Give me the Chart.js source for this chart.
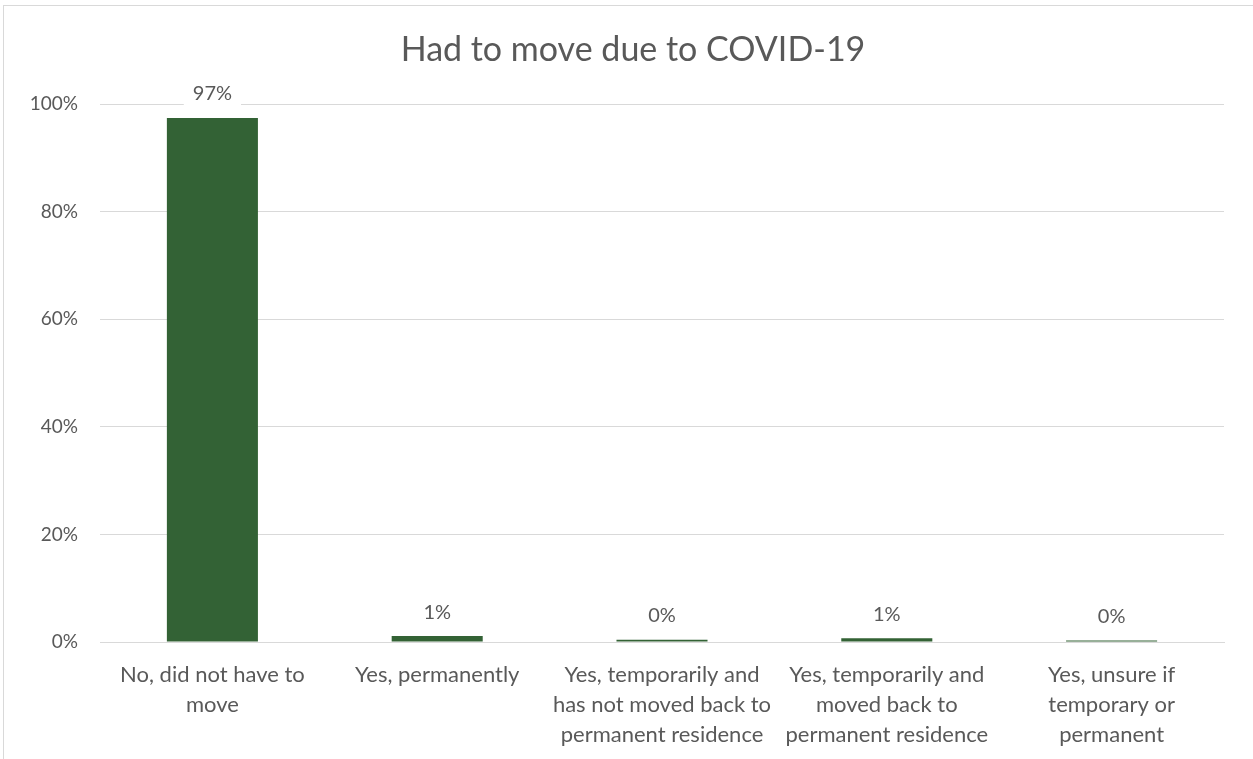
<!DOCTYPE html>
<html>
<head>
<meta charset="utf-8">
<script src="https://cdn.jsdelivr.net/npm/chart.js@4.4.1/dist/chart.umd.min.js"></script>
<style>
  html, body { margin: 0; padding: 0; overflow: hidden; background: #fff; }
  #frame { position: absolute; left: 3px; top: 5px; width: 1300px; height: 800px; border: 1px solid #d9d9d9; box-sizing: border-box; }
  #wrap { position: absolute; left: 0; top: 0; width: 1253px; height: 759px; }
</style>
</head>
<body>
<div id="frame"></div>
<div id="wrap"><canvas id="chartMove"></canvas></div>
<script>
'use strict';

// ── 데이터 ──────────────────────────────────────────────
var chartTitle = 'Had to move due to COVID-19';
var categories = [
  ['No, did not have to', 'move'],
  ['Yes, permanently'],
  ['Yes, temporarily and', 'has not moved back to', 'permanent residence'],
  ['Yes, temporarily and', 'moved back to', 'permanent residence'],
  ['Yes, unsure if', 'temporary or', 'permanent']
];
var shares = [97.4, 1.1, 0.4, 0.7, 0.3];
var yTicks = [0, 20, 40, 60, 80, 100];

var FONT = "Lato, 'Open Sans', 'Liberation Sans', sans-serif";
var TEXT = '#595959';
var GRID = '#d9d9d9';
var BAR = '#336235';

// 제목 (차트 틀 기준 가운데)
var titleText = {
  id: 'titleText',
  afterDraw: function (chart) {
    var ctx = chart.ctx;
    ctx.save();
    ctx.font = '34px ' + FONT;
    ctx.fillStyle = TEXT;
    ctx.textAlign = 'center';
    ctx.textBaseline = 'middle';
    ctx.fillText(chartTitle, 633, 50);
    ctx.restore();
  }
};

// 막대 위 라벨 (흰 배경)
var barLabels = {
  id: 'barLabels',
  afterDatasetsDraw: function (chart) {
    var ctx = chart.ctx;
    var meta = chart.getDatasetMeta(0);
    ctx.save();
    ctx.font = '20px ' + FONT;
    ctx.textAlign = 'center';
    ctx.textBaseline = 'middle';
    meta.data.forEach(function (bar, i) {
      var txt = Math.round(shares[i]) + '%';
      var y = bar.y - 24;
      var w = ctx.measureText(txt).width + 18;
      ctx.fillStyle = '#fff';
      ctx.fillRect(bar.x - w / 2, y - 12, w, 24);
      ctx.fillStyle = TEXT;
      ctx.fillText(txt, bar.x, y);
    });
    ctx.restore();
  }
};

new Chart(document.getElementById('chartMove').getContext('2d'), {
  type: 'bar',
  data: {
    labels: categories,
    datasets: [{
      data: shares,
      backgroundColor: BAR,
      borderWidth: 0,
      barPercentage: 0.81,
      categoryPercentage: 0.5
    }]
  },
  options: {
    responsive: true,
    maintainAspectRatio: false,
    animation: false,
    layout: { padding: { left: 0, right: 29, top: 104, bottom: 0 } },
    plugins: {
      legend: { display: false },
      tooltip: { enabled: false },
      title: { display: false }
    },
    scales: {
      x: {
        grid: { display: false, drawTicks: false },
        border: { display: true, color: GRID, width: 1 },
        ticks: {
          color: TEXT,
          maxRotation: 0,
          autoSkip: false,
          padding: 18,
          font: { family: FONT, size: 22, lineHeight: 1.36 }
        },
        afterFit: function (s) { s.height = 117; }
      },
      y: {
        min: 0,
        max: 100,
        afterBuildTicks: function (s) { s.ticks = yTicks.map(function (v) { return { value: v }; }); },
        grid: { color: GRID, drawTicks: false },
        border: { display: false },
        ticks: {
          color: TEXT,
          padding: 22,
          font: { family: FONT, size: 19 },
          callback: function (v) { return v + '%'; }
        },
        afterFit: function (s) { s.width = 100; }
      }
    }
  },
  plugins: [barLabels, titleText]
});
</script>
</body>
</html>
